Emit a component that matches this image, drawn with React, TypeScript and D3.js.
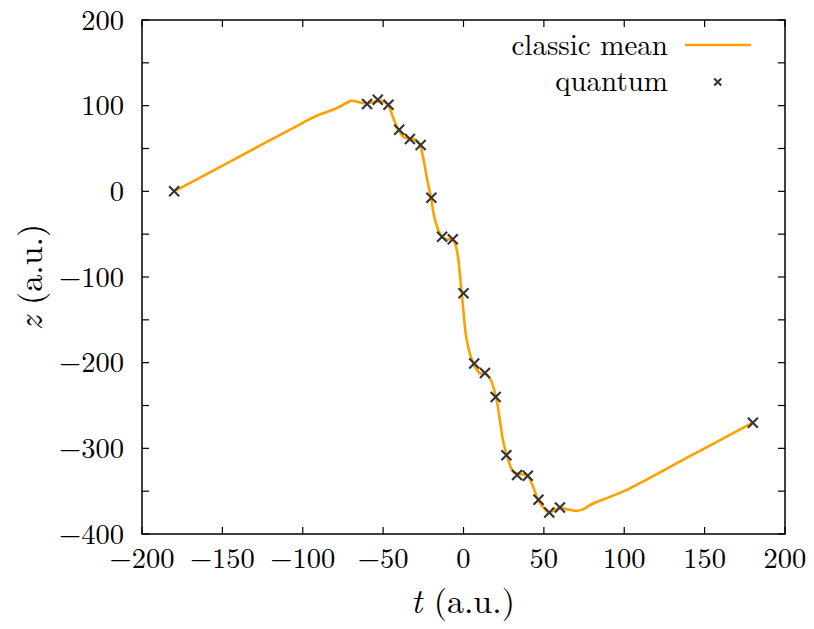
import React from "react";
import * as d3 from "d3";

// quantum expectation values (crosses)
const tQuantum = [-180, -60, -53.33, -46.67, -40, -33.33, -26.67, -20, -13.33, -6.67, 0, 6.67, 13.33, 20, 26.67, 33.33, 40, 46.67, 53.33, 60, 180];
const zQuantum = [0, 102, 107, 101, 72, 61, 54, -7.5, -53, -56, -119, -201, -212, -240, -308, -331, -332, -360, -375, -369, -270];

// classic mean curve samples
const tClassic = [-180, -140, -100, -91, -83, -76.8, -72, -69.5, -64.8, -62.3, -58, -54, -50.9, -47, -44, -40.6, -37.6, -33.7, -30.2, -27.1, -25.2, -22.5, -20.2, -17.7, -13.6, -10.5, -6.7, -4.2, -1.1, 2, 6.1, 10.3, 13.4, 16.5, 20.2, 22.7, 24.5, 26.9, 31, 35.1, 40, 42.4, 46.5, 49.6, 53.2, 56.9, 59.6, 64.2, 70.4, 74.5, 80, 90, 101.5, 140, 180];
const zClassic = [0, 40, 80, 88.5, 94, 99, 104, 105.8, 104, 103, 103.5, 105, 105.5, 101, 87, 72.4, 63.7, 61, 60.5, 54, 40.4, 13, -7.5, -33.6, -53, -56, -56.5, -68.5, -119, -173.6, -200.8, -212.4, -212.6, -218.3, -239.8, -268, -290, -308, -327.3, -330, -332.3, -340.8, -360.4, -369, -375, -372, -369.5, -371, -373, -371, -365, -357.5, -348.5, -310, -270];

const xTicks = [-200, -150, -100, -50, 0, 50, 100, 150, 200];
const yTicks = [-400, -300, -200, -100, 0, 100, 200];
const yMinorTicks = [-350, -250, -150, -50, 50, 150];

const W = 814, H = 629;
const L = 142, R = 785, T = 20, B = 534;
const ORANGE = "#ffa000";
const CROSS = "#333338";
const ts = { fontFamily: "Latin Modern Roman" } as React.CSSProperties;

const fmt = (v: number) => (v < 0 ? "\u2212" + Math.abs(v) : String(v));

export default function App() {
  const x = d3.scaleLinear().domain([-200, 200]).range([L, R]);
  const y = d3.scaleLinear().domain([-400, 200]).range([B, T]);
  const pts: [number, number][] = tClassic.map((t, i) => [t, zClassic[i]]);
  const line = d3
    .line<[number, number]>()
    .x((d) => x(d[0]))
    .y((d) => y(d[1]))
    .curve(d3.curveCatmullRom.alpha(0.5));
  const tick = 7;
  const cs = 5;
  const allY = [...yTicks, ...yMinorTicks];
  return (
    <svg width={W} height={H} style={{ position: "absolute", left: 0, top: 0, display: "block", background: "#fff" }}>
      <rect x={0} y={0} width={W} height={H} fill="#fff" />
      {xTicks.map((v) => (
        <g key={"xt" + v}>
          <line x1={x(v)} x2={x(v)} y1={B} y2={B - tick} stroke="#000" strokeWidth={1.2} />
          <line x1={x(v)} x2={x(v)} y1={T} y2={T + tick} stroke="#000" strokeWidth={1.2} />
          <text x={x(v)} y={568} textAnchor="middle" fontSize={28.5} fill="#000" style={ts}>{fmt(v)}</text>
        </g>
      ))}
      {allY.map((v) => (
        <g key={"yt" + v}>
          <line x1={L} x2={L + tick} y1={y(v)} y2={y(v)} stroke="#000" strokeWidth={1.2} />
          <line x1={R} x2={R - tick} y1={y(v)} y2={y(v)} stroke="#000" strokeWidth={1.2} />
        </g>
      ))}
      {yTicks.map((v) => (
        <text key={"yl" + v} x={124} y={y(v) + 9.5} textAnchor="end" fontSize={28.5} fill="#000" style={ts}>{fmt(v)}</text>
      ))}
      <path d={line(pts) || ""} fill="none" stroke={ORANGE} strokeWidth={2.6} strokeLinejoin="round" />
      {tQuantum.map((t, i) => {
        const cx = x(t), cy = y(zQuantum[i]);
        return (
          <path key={"q" + i} d={`M${cx - cs},${cy - cs}L${cx + cs},${cy + cs}M${cx - cs},${cy + cs}L${cx + cs},${cy - cs}`} stroke={CROSS} strokeWidth={2.1} fill="none" />
        );
      })}
      <rect x={L} y={T} width={R - L} height={B - T} fill="none" stroke="#000" strokeWidth={1.5} />
      <text x={668} y={55} textAnchor="end" fontSize={29} fill="#000" style={ts}>classic mean</text>
      <line x1={685} x2={751} y1={45} y2={45} stroke={ORANGE} strokeWidth={2.6} />
      <text x={668} y={91} textAnchor="end" fontSize={29} fill="#000" style={ts}>quantum</text>
      <path d={`M${717.7 - 3.5},${82 - 3.5}L${717.7 + 3.5},${82 + 3.5}M${717.7 - 3.5},${82 + 3.5}L${717.7 + 3.5},${82 - 3.5}`} stroke={CROSS} strokeWidth={2} fill="none" />
      <text x={463} y={613} textAnchor="middle" fontSize={34} fill="#000" style={ts}>
        <tspan fontStyle="italic">t</tspan> (a.u.)
      </text>
      <text transform="translate(42,277) rotate(-90)" textAnchor="middle" fontSize={34} fill="#000" style={ts}>
        <tspan fontStyle="italic">z</tspan> (a.u.)
      </text>
    </svg>
  );
}
